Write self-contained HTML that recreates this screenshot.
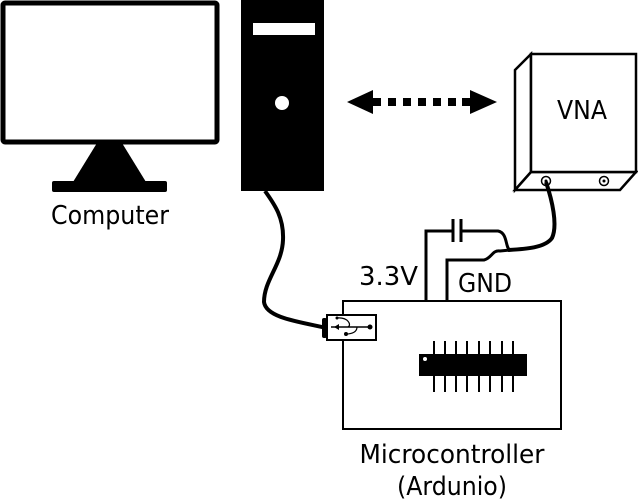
<!DOCTYPE html>
<html><head><style>
body{margin:0;background:#fff;width:638px;height:502px;overflow:hidden}
svg{display:block}
text{font-family:"DejaVu Sans","Liberation Sans",sans-serif;fill:#000}
</style></head><body>
<svg width="638" height="502" viewBox="0 0 638 502">
<!-- Monitor -->
<rect x="3" y="3" width="214" height="139" fill="#fff" stroke="#000" stroke-width="5" rx="2"/>
<polygon points="97,143 122,143 146,182 73,182" fill="#000"/>
<rect x="52" y="181" width="115" height="11" rx="2" fill="#000"/>
<text x="110" y="224" font-size="26" text-anchor="middle" textLength="118" lengthAdjust="spacingAndGlyphs">Computer</text>
<!-- Tower -->
<rect x="241" y="0" width="83" height="191" fill="#000"/>
<rect x="253" y="23" width="62" height="12" fill="#fff"/>
<circle cx="282" cy="103" r="7" fill="#fff"/>
<!-- Arrow -->
<polygon points="347,102 373,90 373,114" fill="#000"/>
<polygon points="497,102 470,90 470,114" fill="#000"/>
<g fill="#000">
<rect x="373" y="98" width="8" height="8"/><rect x="388" y="98" width="8" height="8"/>
<rect x="403" y="98" width="8" height="8"/><rect x="418" y="98" width="8" height="8"/>
<rect x="433" y="98" width="8" height="8"/><rect x="448" y="98" width="8" height="8"/>
<rect x="462" y="98" width="8" height="8"/>
</g>
<!-- VNA -->
<g fill="#fff" stroke="#000" stroke-width="2.5">
<polygon points="515,70 531,54 531,172 515,190"/>
<polygon points="515,190 531,172 636,172 620,190"/>
<rect x="531" y="54" width="105" height="118"/>
</g>
<text x="582" y="119" font-size="26" text-anchor="middle" textLength="50" lengthAdjust="spacingAndGlyphs">VNA</text>
<circle cx="546" cy="181" r="4.5" fill="none" stroke="#000" stroke-width="1.5"/>
<circle cx="546" cy="181" r="1.5" fill="#000"/>
<circle cx="604" cy="181" r="4.5" fill="none" stroke="#000" stroke-width="1.5"/>
<circle cx="604" cy="181" r="1.5" fill="#000"/>
<!-- Cables -->
<path d="M265,191 C275,205 284,218 283,240 C282,265 264,280 264,302 C266,318 300,322 327,328" fill="none" stroke="#000" stroke-width="4"/>
<path d="M546,182 C552,200 558,225 552,238 C545,248 525,249 508,250" fill="none" stroke="#000" stroke-width="4"/>
<!-- Wires -->
<path d="M426,301 V231 H453 M461,231 H498 C508,233 505,248 510,250" fill="none" stroke="#000" stroke-width="3"/>
<path d="M447,301 V260 H484 C492,258 492,250 500,251 L510,250" fill="none" stroke="#000" stroke-width="3"/>
<line x1="453" y1="219" x2="453" y2="242" stroke="#000" stroke-width="3"/>
<line x1="461" y1="219" x2="461" y2="242" stroke="#000" stroke-width="3"/>
<text x="359" y="285" font-size="26" textLength="59" lengthAdjust="spacingAndGlyphs">3.3V</text>
<text x="458" y="292" font-size="26" textLength="54" lengthAdjust="spacingAndGlyphs">GND</text>
<!-- Board -->
<rect x="343" y="301" width="218" height="128" fill="#fff" stroke="#000" stroke-width="2"/>
<rect x="327" y="315" width="49" height="25" fill="#fff" stroke="#000" stroke-width="2"/>
<rect x="322" y="318" width="5" height="20" fill="#000" rx="2"/>
<line x1="331" y1="327" x2="370" y2="327" stroke="#000" stroke-width="1.5"/>
<circle cx="370" cy="327" r="2.5" fill="#000"/>
<path d="M339,324 L334,327 L339,330 Z" fill="#000"/>
<path d="M337,318 C348,317 352,325 348,327" fill="none" stroke="#000" stroke-width="1.2"/>
<path d="M357,327 C357,332 352,334 346,334" fill="none" stroke="#000" stroke-width="1.2"/>
<circle cx="337" cy="318" r="1.5" fill="#000"/><circle cx="346" cy="334" r="2" fill="#000"/>
<!-- chip -->
<g stroke="#000" stroke-width="2">
<line x1="434" y1="341" x2="434" y2="392"/><line x1="445" y1="341" x2="445" y2="392"/>
<line x1="456" y1="341" x2="456" y2="392"/><line x1="467" y1="341" x2="467" y2="392"/>
<line x1="479" y1="341" x2="479" y2="392"/><line x1="490" y1="341" x2="490" y2="392"/>
<line x1="502" y1="341" x2="502" y2="392"/><line x1="513" y1="341" x2="513" y2="392"/>
</g>
<rect x="419" y="354" width="108" height="22" fill="#000"/>
<circle cx="425" cy="359" r="2" fill="#fff"/>
<text x="452" y="463" font-size="26" text-anchor="middle" textLength="185" lengthAdjust="spacingAndGlyphs">Microcontroller</text>
<text x="452" y="495" font-size="26" text-anchor="middle" textLength="110" lengthAdjust="spacingAndGlyphs">(Ardunio)</text>
</svg>
</body></html>
